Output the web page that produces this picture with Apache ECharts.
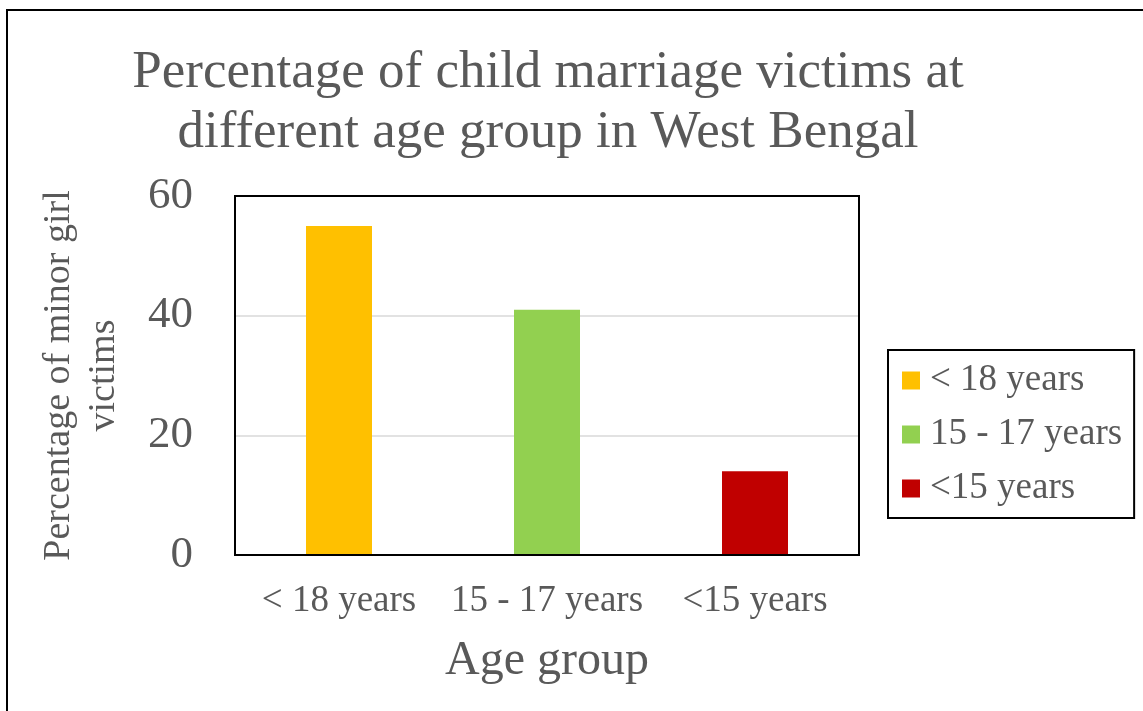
<!DOCTYPE html>
<html><head><meta charset="utf-8">
<script src="https://cdn.jsdelivr.net/npm/echarts@6/dist/echarts.min.js"></script>
<style>html,body{margin:0;padding:0;background:#fff}#c{width:1143px;height:711px}</style>
</head><body><div id="c"></div>
<script>
const categories = ['< 18 years', '15 - 17 years', '<15 years'];
const seriesNames = ['< 18 years', '15 - 17 years', '<15 years'];
const values = [55, 41, 14];
const colors = ['#FFC000', '#92D050', '#C00000'];
const yTicks = [0, 20, 40, 60];

const FONT = '"Liberation Serif", "Times New Roman", serif';
const TXT = '#595959';

const chart = echarts.init(document.getElementById('c'));
const series = seriesNames.map((n, i) => ({
  name: n, type: 'bar', stack: 'all', barWidth: 66,
  itemStyle: { color: colors[i] },
  data: categories.map((c, j) => j === i ? values[i] : null)
}));
chart.setOption({
  animation: false,
  backgroundColor: '#fff',
  title: {
    text: 'Percentage of child marriage victims at\ndifferent age group in West Bengal',
    left: 543, textAlign: 'center', top: 38,
    textStyle: { fontFamily: FONT, fontSize: 53, fontWeight: 'normal', color: TXT, lineHeight: 60 }
  },
  graphic: [{
    type: 'rect', shape: { x: 7, y: 10, width: 1160, height: 720 },
    style: { fill: 'none', stroke: '#000', lineWidth: 2 }, silent: true
  }, {
    type: 'rect', shape: { x: 235, y: 196, width: 624, height: 359 },
    style: { fill: 'none', stroke: '#000', lineWidth: 2 }, silent: true, z: 10
  }],
  legend: {
    orient: 'vertical', left: 888, top: 350, width: 247,
    padding: [12, 12, 11, 14], itemGap: 17,
    itemWidth: 18, itemHeight: 18, icon: 'rect',
    borderColor: '#000', borderWidth: 2,
    textStyle: { fontFamily: FONT, fontSize: 37, color: TXT, padding: [0, 0, 0, 5] },
    data: seriesNames
  },
  grid: { left: 235, right: 284, top: 196, bottom: 156, containLabel: false, outerBoundsMode: 'none' },
  xAxis: {
    type: 'category', data: categories,
    name: 'Age group', nameLocation: 'middle', nameGap: 82,
    nameTextStyle: { fontFamily: FONT, fontSize: 48, color: TXT },
    axisLine: { show: true, lineStyle: { color: '#000', width: 2 } },
    axisTick: { show: false },
    axisLabel: { fontFamily: FONT, fontSize: 37, color: TXT, margin: 28, interval: 0 }
  },
  yAxis: {
    type: 'value', min: yTicks[0], max: yTicks[yTicks.length - 1], interval: 20,
    name: 'Percentage of minor girl\nvictims', nameLocation: 'middle', nameGap: 108,
    nameTextStyle: { fontFamily: FONT, fontSize: 38, color: TXT, lineHeight: 45 },
    axisLine: { show: false }, axisTick: { show: false },
    splitLine: { lineStyle: { color: '#d9d9d9', width: 1.5 } },
    axisLabel: { fontFamily: FONT, fontSize: 45, color: TXT, margin: 42 }
  },
  series: series
});
</script></body></html>
